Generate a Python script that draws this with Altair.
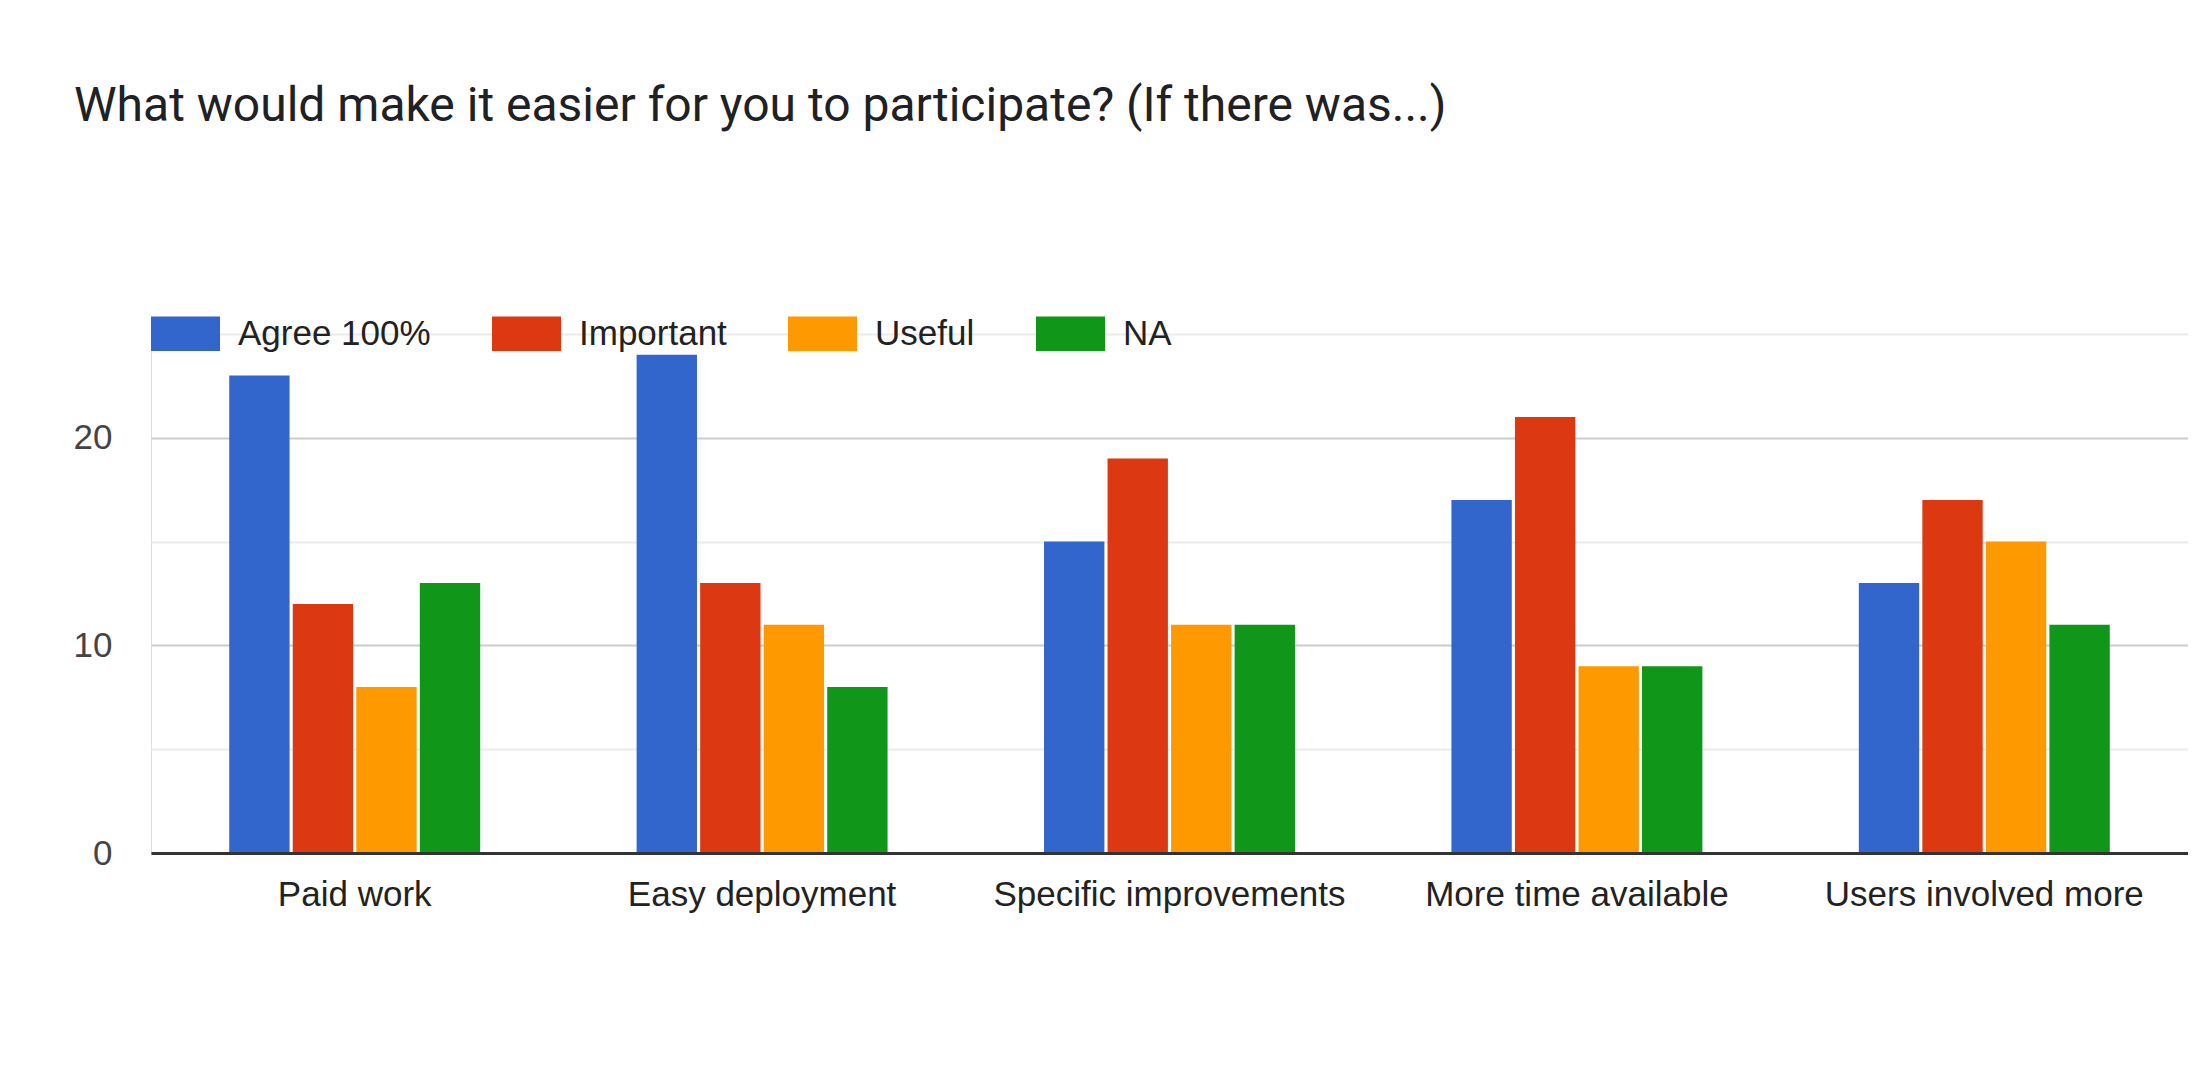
import altair as alt
import pandas as pd

categories = ["Paid work", "Easy deployment", "Specific improvements", "More time available", "Users involved more"]
series = ["Agree 100%", "Important", "Useful", "NA"]
colors = ["#3366cc", "#dc3912", "#ff9900", "#109618"]
agree = [23, 24, 15, 17, 13]
important = [12, 13, 19, 21, 17]
useful = [8, 11, 11, 9, 15]
na = [13, 8, 11, 9, 11]
y_ticks = [0, 5, 10, 15, 20, 25]
title_text = "What would make it easier for you to participate? (If there was...)"

rows = []
for s, vals in zip(series, [agree, important, useful, na]):
    for c, v in zip(categories, vals):
        rows.append({"category": c, "series": s, "value": v})
df = pd.DataFrame(rows)

chart = alt.Chart(df).mark_bar().encode(
    x=alt.X("category:N", sort=categories, title=None,
            scale=alt.Scale(paddingInner=0.384, paddingOuter=0.192),
            axis=alt.Axis(labelAngle=0, ticks=False, tickSize=0, labelPadding=24,
                          domainColor="#333333", domainWidth=3, grid=False,
                          labelFont="Liberation Sans", labelFontSize=35,
                          labelColor="#222222", labelLimit=600, zindex=1)),
    xOffset=alt.XOffset("series:N", sort=series,
                        scale=alt.Scale(paddingInner=0.05, paddingOuter=0)),
    y=alt.Y("value:Q", title=None, scale=alt.Scale(domain=[0, 25], nice=False),
            axis=alt.Axis(values=y_ticks, domain=False, ticks=False, tickSize=0,
                          labelPadding=39,
                          labelExpr="datum.value % 10 === 0 ? datum.label : ''",
                          labelFont="Liberation Sans", labelFontSize=35,
                          labelColor="#444444",
                          gridColor=alt.condition("datum.value % 10 === 0",
                                                  alt.value("#cccccc"),
                                                  alt.value("#ebebeb")),
                          gridWidth=2, zindex=0)),
    color=alt.Color("series:N", sort=series,
                    scale=alt.Scale(domain=series, range=colors),
                    legend=alt.Legend(orient="none", legendX=0, legendY=-35,
                                      direction="horizontal", columns=4,
                                      title=None,
                                      symbolType="M-1,-0.5H1V0.5H-1Z",
                                      symbolSize=4761, symbolStrokeWidth=0,
                                      symbolOpacity=1,
                                      labelOffset=18, columnPadding=61,
                                      labelFont="Liberation Sans",
                                      labelFontSize=35, labelColor="#222222",
                                      labelLimit=600, padding=0)),
).properties(
    width=2037,
    height=519,
    padding={"left": 143, "top": 326, "right": 0, "bottom": 120},
    autosize=alt.AutoSizeParams(type="none"),
    title=alt.TitleParams(text=title_text, anchor="start", frame="group",
                          dx=-77, offset=130, baseline="alphabetic",
                          font="Roboto", fontSize=48, fontWeight="normal",
                          color="#202124"),
).configure_view(stroke=None).configure(background="white")

chart.save("out.html", embed_options={"renderer": "svg", "actions": False})
